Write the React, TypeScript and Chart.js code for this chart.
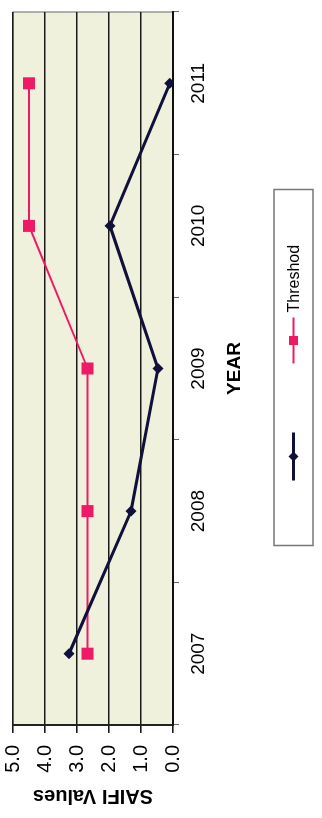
import React, { useEffect, useRef } from "react";
import { Chart, registerables } from "chart.js";

Chart.register(...registerables);

const years = ["2007", "2008", "2009", "2010", "2011"];
const saifiValues = [3.25, 1.31, 0.47, 1.97, 0.1];
const thresholdValues = [2.67, 2.67, 2.67, 4.5, 4.5];
const valueTicks = [0, 1, 2, 3, 4, 5];

const FONT = "'Liberation Sans', Arial, sans-serif";
const BLACK = "#10103a";
const PINK = "#ee1a66";

const bgPlugin = {
  id: "plotBg",
  beforeDraw(chart: any) {
    const { ctx, chartArea: a } = chart;
    ctx.save();
    ctx.fillStyle = "#eff1dd";
    ctx.fillRect(a.left, a.top, a.right - a.left, a.bottom - a.top);
    ctx.strokeStyle = "#666";
    ctx.lineWidth = 1;
    ctx.strokeRect(a.left, a.top, a.right - a.left, a.bottom - a.top);
    ctx.restore();
  },
};

const legendPlugin = {
  id: "boxLegend",
  afterDraw(chart: any) {
    const { ctx, chartArea: a } = chart;
    const cx = (a.left + a.right) / 2;
    const top = chart.height - 48;
    const h = 39;
    const cy = top + h / 2;
    ctx.save();
    ctx.strokeStyle = "#777";
    ctx.lineWidth = 1.5;
    ctx.strokeRect(cx - 177, top, 356, h);
    // black entry
    ctx.strokeStyle = BLACK;
    ctx.lineWidth = 3;
    ctx.beginPath();
    ctx.moveTo(cx - 112, cy);
    ctx.lineTo(cx - 64, cy);
    ctx.stroke();
    ctx.fillStyle = BLACK;
    ctx.beginPath();
    ctx.moveTo(cx - 88, cy - 5);
    ctx.lineTo(cx - 83, cy);
    ctx.lineTo(cx - 88, cy + 5);
    ctx.lineTo(cx - 93, cy);
    ctx.closePath();
    ctx.fill();
    // pink entry
    ctx.strokeStyle = PINK;
    ctx.lineWidth = 2;
    ctx.beginPath();
    ctx.moveTo(cx + 5, cy);
    ctx.lineTo(cx + 51, cy);
    ctx.stroke();
    ctx.fillStyle = PINK;
    ctx.fillRect(cx + 28 - 4.5, cy - 4.5, 9, 9);
    ctx.fillStyle = "#000";
    ctx.font = "16px " + FONT;
    ctx.textBaseline = "middle";
    ctx.textAlign = "left";
    ctx.fillText("Threshod", cx + 56, cy + 1);
    ctx.restore();
  },
};

export default function App() {
  const ref = useRef<HTMLCanvasElement | null>(null);
  useEffect(() => {
    document.body.style.overflow = "hidden";
    const chart = new Chart(ref.current as HTMLCanvasElement, {
      type: "line",
      data: {
        labels: years,
        datasets: [
          {
            label: "",
            data: saifiValues,
            borderColor: BLACK,
            backgroundColor: BLACK,
            borderWidth: 3,
            pointStyle: "rectRot",
            pointRadius: 5.5,
            pointBorderWidth: 0,
            tension: 0,
          },
          {
            label: "Threshod",
            data: thresholdValues,
            borderColor: PINK,
            backgroundColor: PINK,
            borderWidth: 2,
            pointStyle: "rect",
            pointRadius: 8.5,
            pointBorderWidth: 0,
            tension: 0,
          },
        ],
      },
      options: {
        responsive: false,
        animation: false,
        layout: { padding: { left: 0, right: 12, top: 13, bottom: 76 } },
        plugins: {
          legend: { display: false },
          tooltip: { enabled: false },
        },
        scales: {
          x: {
            type: "category",
            offset: true,
            grid: {
              offset: true,
              drawOnChartArea: false,
              drawTicks: true,
              tickLength: 6,
              color: "#666",
              lineWidth: 1,
            },
            border: { display: true, color: "#111", width: 2 },
            ticks: {
              color: "#000",
              font: { family: FONT, size: 19 },
              padding: 8,
              maxRotation: 0,
              minRotation: 0,
            },
            title: {
              display: true,
              text: "YEAR",
              color: "#000",
              font: { family: FONT, size: 19, weight: "bold" },
              padding: 0,
            },
            afterFit(scale: any) {
              scale.height = 73;
              scale.paddingLeft = 0;
              scale.paddingRight = 0;
              scale.paddingTop = 0;
              scale.paddingBottom = 0;
            },
          },
          y: {
            min: 0,
            max: 5,
            afterBuildTicks(scale: any) {
              scale.ticks = valueTicks.map((v) => ({ value: v }));
            },
            grid: {
              color: "#1a1a1a",
              lineWidth: 1.6,
              drawTicks: true,
              tickLength: 8,
            },
            border: { display: true, color: "#222", width: 2 },
            ticks: {
              color: "#000",
              font: { family: FONT, size: 20 },
              padding: 12,
              callback: (v: any) => Number(v).toFixed(1),
            },
            title: {
              display: true,
              text: "SAIFI Values",
              color: "#000",
              font: { family: FONT, size: 20, weight: "bold" },
              padding: { top: 10, bottom: 0 },
            },
            afterFit(scale: any) {
              scale.width = 93;
              scale.paddingLeft = 0;
              scale.paddingRight = 0;
              scale.paddingTop = 0;
              scale.paddingBottom = 0;
            },
          },
        },
      },
      plugins: [bgPlugin, legendPlugin],
    } as any);
    return () => chart.destroy();
  }, []);
  return (
    <div
      style={{
        position: "absolute",
        left: 0,
        top: 0,
        width: 818,
        height: 322,
        background: "#fff",
        transformOrigin: "0 0",
        transform: "translateY(818px) rotate(-90deg)",
      }}
    >
      <canvas ref={ref} width={818} height={322} style={{ display: "block" }} />
    </div>
  );
}
